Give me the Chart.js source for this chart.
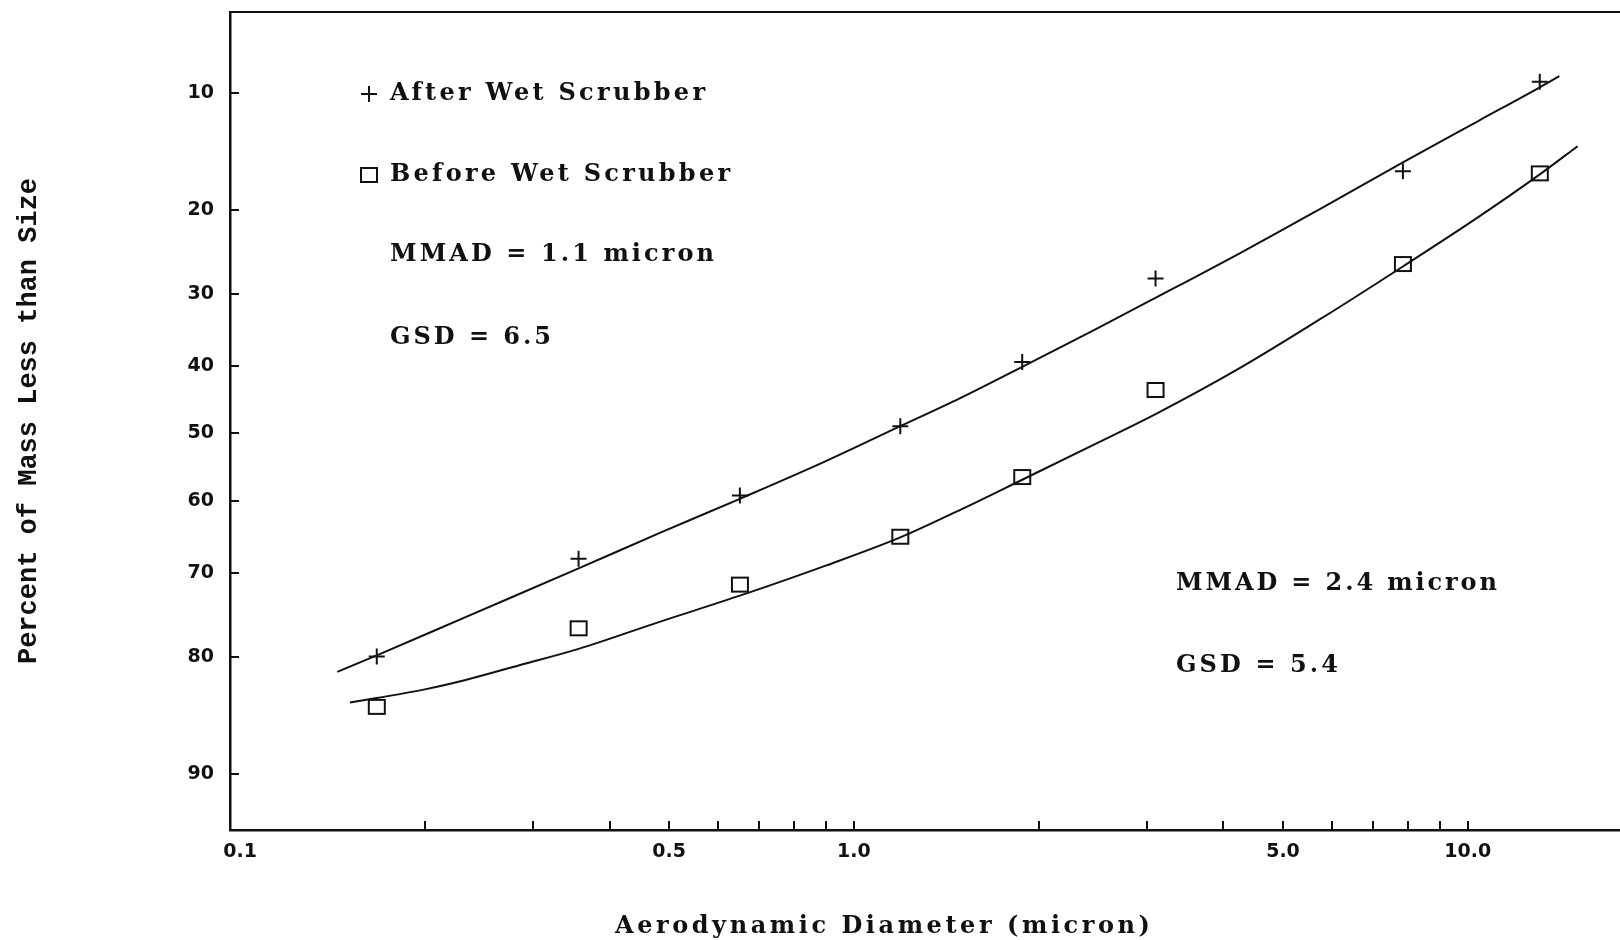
<!DOCTYPE html>
<html>
<head>
<meta charset="utf-8">
<script src="https://cdn.jsdelivr.net/npm/chart.js@4/dist/chart.umd.min.js"></script>
<style>
  html, body { margin: 0; padding: 0; background: #ffffff; overflow: hidden; }
  canvas { display: block; }
</style>
</head>
<body>
<canvas id="chart" width="1620" height="940" style="width:1620px;height:940px"></canvas>
<script>
// ---------------- data ----------------
const stageDiameters = [0.167, 0.356, 0.652, 1.19, 1.88, 3.10, 7.84, 13.1];
const afterPercent   = [79.9, 68.1, 59.2, 48.9, 39.4, 28.0, 16.2, 9.3];
const beforePercent  = [84.8, 76.8, 71.5, 65.1, 56.5, 43.5, 26.2, 16.4];

const afterFitDiameters  = [0.144, 0.167, 0.233, 0.356, 0.485, 0.652, 0.902, 1.19, 1.49, 1.88, 2.47, 3.10, 4.25, 5.79, 7.84, 10.4, 13.1, 14.1];
const afterFitPercent    = [81.5, 79.8, 75.5, 69.4, 64.5, 59.7, 54.1, 48.9, 44.7, 40.1, 34.8, 30.5, 24.9, 19.8, 15.4, 12.0, 9.65, 8.95];
const beforeFitDiameters = [0.151, 0.167, 0.200, 0.233, 0.286, 0.356, 0.485, 0.652, 0.902, 1.19, 1.49, 1.88, 2.47, 3.10, 4.25, 5.79, 7.84, 10.4, 13.1, 15.1];
const beforeFitPercent   = [84.4, 84.0, 83.2, 82.3, 80.8, 79.1, 76.0, 72.9, 69.0, 65.2, 61.3, 56.9, 51.6, 47.1, 40.3, 33.2, 26.5, 20.8, 16.5, 14.0];

const yTickValues = [10, 20, 30, 40, 50, 60, 70, 80, 90];
const xTickValues = [0.1, 0.2, 0.3, 0.4, 0.5, 0.6, 0.7, 0.8, 0.9, 1, 2, 3, 4, 5, 6, 7, 8, 9, 10];
const xLabelValues = [0.1, 0.5, 1, 5, 10];
const xLabelTexts  = ['0.1', '0.5', '1.0', '5.0', '10.0'];
const xRange = [0.0963, 17.7];
const yRange = [5.65, 93.2];

const seriesLabels = ['After Wet Scrubber', 'Before Wet Scrubber'];
const fitNotes = ['MMAD = 1.1 micron', 'GSD = 6.5', 'MMAD = 2.4 micron', 'GSD = 5.4'];
const xAxisTitle = 'Aerodynamic Diameter (micron)';
const yAxisTitle = 'Percent of Mass Less than Size';

// ---------------- layout / style ----------------
const INK = '#111111';
const NOTE_FONT = 'bold 24px "DejaVu Serif"';
const LEGEND_LAYOUT = [ { mx: 369, x: 390, y: 94, w: 315 }, { mx: 369, x: 390, y: 175, w: 340 } ];
const NOTE_LAYOUT = [ { x: 390, y: 255, w: 324 }, { x: 390, y: 338, w: 161 }, { x: 1176, y: 584, w: 321 }, { x: 1176, y: 666, w: 162 } ];
const XTITLE_LAYOUT = { x: 615, y: 927, w: 535, font: 'bold 24px "DejaVu Serif"' };
const TICK_LEN = 9;

// ---------------- probability (probit) scale ----------------
function probit(p) {
  const a = [-3.969683028665376e+01, 2.209460984245205e+02, -2.759285104469687e+02, 1.383577518672690e+02, -3.066479806614716e+01, 2.506628277459239e+00];
  const b = [-5.447609879822406e+01, 1.615858368580409e+02, -1.556989798598866e+02, 6.680131188771972e+01, -1.328068155288572e+01];
  const c = [-7.784894002430293e-03, -3.223964580411365e-01, -2.400758277161838e+00, -2.549732539343734e+00, 4.374664141464968e+00, 2.938163982698783e+00];
  const d = [7.784695709041462e-03, 3.224671290700398e-01, 2.445134137142996e+00, 3.754408661907416e+00];
  const pl = 0.02425, ph = 1 - pl;
  let q, r;
  if (p < pl) {
    q = Math.sqrt(-2 * Math.log(p));
    return (((((c[0]*q+c[1])*q+c[2])*q+c[3])*q+c[4])*q+c[5]) / ((((d[0]*q+d[1])*q+d[2])*q+d[3])*q+1);
  }
  if (p > ph) {
    q = Math.sqrt(-2 * Math.log(1 - p));
    return -(((((c[0]*q+c[1])*q+c[2])*q+c[3])*q+c[4])*q+c[5]) / ((((d[0]*q+d[1])*q+d[2])*q+d[3])*q+1);
  }
  q = p - 0.5; r = q * q;
  return (((((a[0]*r+a[1])*r+a[2])*r+a[3])*r+a[4])*r+a[5])*q / (((((b[0]*r+b[1])*r+b[2])*r+b[3])*r+b[4])*r+1);
}
function normCdf(z) {
  const t = 1 / (1 + 0.3275911 * Math.abs(z) / Math.SQRT2);
  const y = 1 - (((((1.061405429*t - 1.453152027)*t) + 1.421413741)*t - 0.284496736)*t + 0.254829592)*t*Math.exp(-z*z/2);
  return z >= 0 ? 0.5 * (1 + y) : 0.5 * (1 - y);
}

class ProbitScale extends Chart.Scale {
  static id = 'probit';
  static defaults = { ticks: { callback: (v) => String(v) } };
  determineDataLimits() {
    this.min = this.options.min;
    this.max = this.options.max;
  }
  buildTicks() {
    return yTickValues.map(v => ({ value: v }));
  }
  getLabelForValue(v) { return String(v); }
  configure() {
    super.configure();
    this._zStart = probit(this.min / 100);
    this._zRange = probit(this.max / 100) - this._zStart;
  }
  getPixelForValue(v) {
    if (v === null || v === undefined || isNaN(v)) return NaN;
    return this.getPixelForDecimal((probit(v / 100) - this._zStart) / this._zRange);
  }
  getValueForPixel(px) {
    return 100 * normCdf(this._zStart + this.getDecimalForPixel(px) * this._zRange);
  }
}
Chart.register(ProbitScale);

// ---------------- markers ----------------
function makeBox(w, h, lw) {
  const c = document.createElement('canvas');
  c.width = w + lw * 2; c.height = h + lw * 2;
  const g = c.getContext('2d');
  g.strokeStyle = INK; g.lineWidth = lw;
  g.strokeRect(lw, lw, w, h);
  return c;
}
const boxMarker = makeBox(16, 14, 2);

function pairs(xs, ys) { return xs.map((x, i) => ({ x: x, y: ys[i] })); }

function drawSpaced(ctx, text, x, y, width) {
  ctx.letterSpacing = '0px';
  const natural = ctx.measureText(text).width;
  if ('letterSpacing' in ctx && text.length > 1) {
    ctx.letterSpacing = ((width - natural) / (text.length - 1)).toFixed(2) + 'px';
  }
  ctx.fillText(text, x, y);
  ctx.letterSpacing = '0px';
}

const decorPlugin = {
  id: 'decor',
  afterDraw(chart) {
    const ctx = chart.ctx, area = chart.chartArea;
    const xs = chart.scales.x, ys = chart.scales.y;
    ctx.save();
    ctx.strokeStyle = INK;
    ctx.fillStyle = INK;
    // top frame line
    ctx.lineWidth = 2;
    ctx.beginPath();
    ctx.moveTo(area.left, area.top);
    ctx.lineTo(area.right, area.top);
    ctx.stroke();
    // inward tick marks
    ctx.lineWidth = 2;
    ctx.beginPath();
    xs.ticks.forEach(t => {
      if (t.value <= xTickValues[0]) return;
      const px = Math.round(xs.getPixelForValue(t.value));
      ctx.moveTo(px, area.bottom);
      ctx.lineTo(px, area.bottom - TICK_LEN);
    });
    ys.ticks.forEach(t => {
      const py = Math.round(ys.getPixelForValue(t.value));
      ctx.moveTo(area.left, py);
      ctx.lineTo(area.left + TICK_LEN, py);
    });
    ctx.stroke();

    // legend
    ctx.font = NOTE_FONT;
    ctx.textBaseline = 'middle';
    ctx.textAlign = 'left';
    LEGEND_LAYOUT.forEach((L, i) => {
      if (i === 0) {
        ctx.lineWidth = 2;
        ctx.beginPath();
        ctx.moveTo(L.mx - 8, L.y); ctx.lineTo(L.mx + 8, L.y);
        ctx.moveTo(L.mx, L.y - 8); ctx.lineTo(L.mx, L.y + 8);
        ctx.stroke();
      } else {
        ctx.drawImage(boxMarker, L.mx - boxMarker.width / 2, L.y - boxMarker.height / 2);
      }
      drawSpaced(ctx, seriesLabels[i], L.x, L.y, L.w);
    });
    // fit statistics
    NOTE_LAYOUT.forEach((N, i) => drawSpaced(ctx, fitNotes[i], N.x, N.y, N.w));
    // x axis title
    ctx.font = XTITLE_LAYOUT.font;
    drawSpaced(ctx, xAxisTitle, XTITLE_LAYOUT.x, XTITLE_LAYOUT.y, XTITLE_LAYOUT.w);
    ctx.restore();
  }
};

const tickFont = { family: '"DejaVu Sans"', size: 19, weight: 'bold' };

new Chart(document.getElementById('chart'), {
  type: 'scatter',
  data: {
    datasets: [
      { label: seriesLabels[0] + ' fit', data: pairs(afterFitDiameters, afterFitPercent), showLine: true, pointRadius: 0,
        borderColor: INK, borderWidth: 2, cubicInterpolationMode: 'monotone', fill: false },
      { label: seriesLabels[1] + ' fit', data: pairs(beforeFitDiameters, beforeFitPercent), showLine: true, pointRadius: 0,
        borderColor: INK, borderWidth: 2, cubicInterpolationMode: 'monotone', fill: false },
      { label: seriesLabels[0], data: pairs(stageDiameters, afterPercent), showLine: false,
        pointStyle: 'cross', pointRadius: 8, pointBorderWidth: 2, pointBorderColor: INK, pointBackgroundColor: INK },
      { label: seriesLabels[1], data: pairs(stageDiameters, beforePercent), showLine: false,
        pointStyle: boxMarker, pointRadius: 8, pointBorderColor: INK }
    ]
  },
  options: {
    responsive: false,
    devicePixelRatio: 1,
    animation: false,
    layout: { autoPadding: false, padding: { top: 12, left: 0, right: 0, bottom: 0 } },
    plugins: { legend: { display: false }, tooltip: { enabled: false } },
    scales: {
      x: {
        type: 'logarithmic',
        min: xRange[0], max: xRange[1],
        afterBuildTicks: (s) => { s.ticks = xTickValues.map(v => ({ value: v })); },
        afterFit: (s) => { s.height = 110; s.paddingLeft = 0; s.paddingRight = 0; },
        grid: { display: false, drawTicks: false },
        border: { display: true, color: INK, width: 2.5 },
        ticks: {
          autoSkip: false, maxRotation: 0, minRotation: 0, padding: 11, color: INK, font: tickFont,
          callback: (v) => { const k = xLabelValues.indexOf(v); return k >= 0 ? xLabelTexts[k] : ''; }
        },
        title: { display: false }
      },
      y: {
        type: 'probit',
        min: yRange[0], max: yRange[1],
        reverse: true,
        afterFit: (s) => { s.width = 230; s.paddingTop = 0; s.paddingBottom = 0; },
        grid: { display: false, drawTicks: false },
        border: { display: true, color: INK, width: 2.5 },
        ticks: { padding: 16, color: INK, font: tickFont, callback: (v) => String(v) },
        title: { display: true, text: yAxisTitle, color: INK,
                 font: { family: '"Liberation Mono"', size: 27, weight: 'bold' },
                 padding: { top: 13, bottom: 0 } }
      }
    }
  },
  plugins: [decorPlugin]
});
</script>
</body>
</html>
